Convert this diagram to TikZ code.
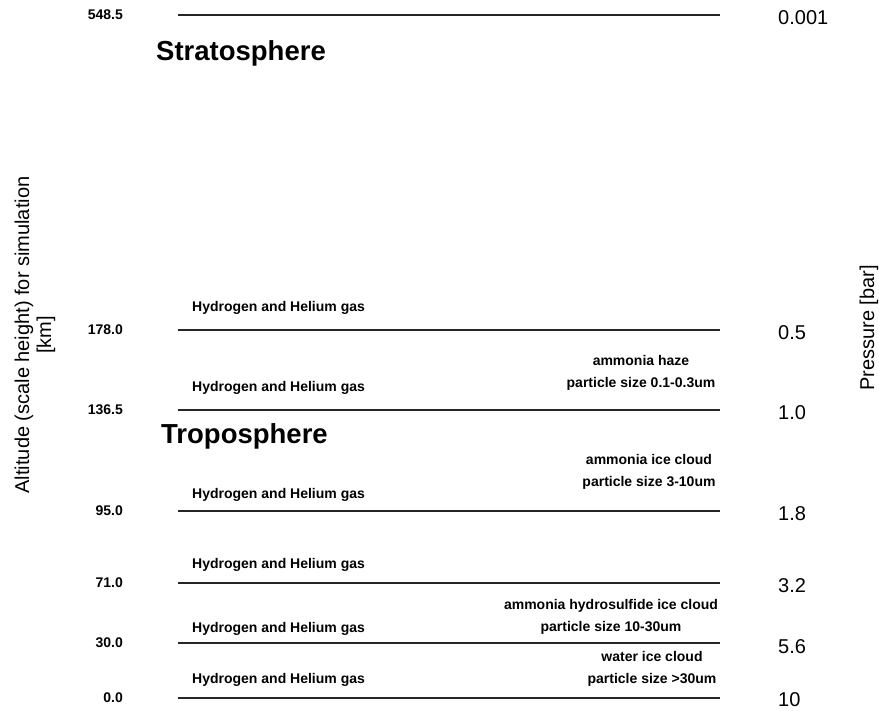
\documentclass[tikz,border=0pt]{standalone}
\usepackage{fontspec}
\setmainfont{Liberation Sans}
\begin{document}
\begin{tikzpicture}[x=1pt, y=-1pt,
    levelline/.style={line width=2pt, draw=black!85},
    altnum/.style={anchor=east, inner sep=0pt, font=\bfseries\fontsize{14}{16}\selectfont},
    pressnum/.style={anchor=west, inner sep=0pt, font=\fontsize{20}{22}\selectfont},
    gaslabel/.style={anchor=base west, inner sep=0pt, font=\bfseries\fontsize{14}{16}\selectfont},
    cloudlabel/.style={anchor=center, inner sep=0pt, align=center, font=\bfseries\fontsize{14}{22.5}\selectfont},
    layername/.style={anchor=base west, inner sep=0pt, font=\bfseries\fontsize{27.5}{30}\selectfont},
    axistitle/.style={rotate=90, inner sep=0pt, align=center, font=\fontsize{20}{22}\selectfont}]
    \useasboundingbox (0,0) rectangle (879,711);

    % altitude levels (left) and pressure levels (right)
    \node[altnum] (a5485) at (123,15) {548.5};
    \node[altnum] (a1780) at (123,330) {178.0};
    \node[altnum] (a1365) at (123,410) {136.5};
    \node[altnum] (a950) at (123,511) {95.0};
    \node[altnum] (a710) at (123,583) {71.0};
    \node[altnum] (a300) at (123,643) {30.0};
    \node[altnum] (a00) at (123,698) {0.0};

    \node[pressnum] (p0001) at (778,18) {0.001};
    \node[pressnum] (p05) at (778,333) {0.5};
    \node[pressnum] (p10) at (778,413) {1.0};
    \node[pressnum] (p18) at (778,514) {1.8};
    \node[pressnum] (p32) at (778,586) {3.2};
    \node[pressnum] (p56) at (778,647) {5.6};
    \node[pressnum] (p100) at (778,700) {10};

    \draw[levelline] (178,15) -- (720,15);
    \draw[levelline] (178,330) -- (720,330);
    \draw[levelline] (178,410) -- (720,410);
    \draw[levelline] (178,511) -- (720,511);
    \draw[levelline] (178,583) -- (720,583);
    \draw[levelline] (178,643) -- (720,643);
    \draw[levelline] (178,698) -- (720,698);

    % layer names
    \node[layername] (strato) at (156,61) {Stratosphere};
    \node[layername] (tropo) at (161,443) {Troposphere};

    % gas in each layer
    \node[gaslabel] (gas1) at (192,312) {Hydrogen and Helium gas};
    \node[gaslabel] (gas2) at (192,392) {Hydrogen and Helium gas};
    \node[gaslabel] (gas3) at (192,498) {Hydrogen and Helium gas};
    \node[gaslabel] (gas4) at (192,568) {Hydrogen and Helium gas};
    \node[gaslabel] (gas5) at (192,632) {Hydrogen and Helium gas};
    \node[gaslabel] (gas6) at (192,683) {Hydrogen and Helium gas};

    % clouds
    \node[cloudlabel] (haze) at (641,373) {ammonia haze\\particle size 0.1-0.3um};
    \node[cloudlabel] (icecloud) at (649,472) {ammonia ice cloud\\particle size 3-10um};
    \node[cloudlabel] (nh4sh) at (611,617) {ammonia hydrosulfide ice cloud\\particle size 10-30um};
    \node[cloudlabel] (water) at (652,669) {water ice cloud\\particle size >30um};

    % axis titles
    \node[axistitle] (alttitle) at (35,335) {Altitude (scale height) for simulation\\{[km]}};
    \node[axistitle] (presstitle) at (869,328) {Pressure [bar]};
\end{tikzpicture}
\end{document}
